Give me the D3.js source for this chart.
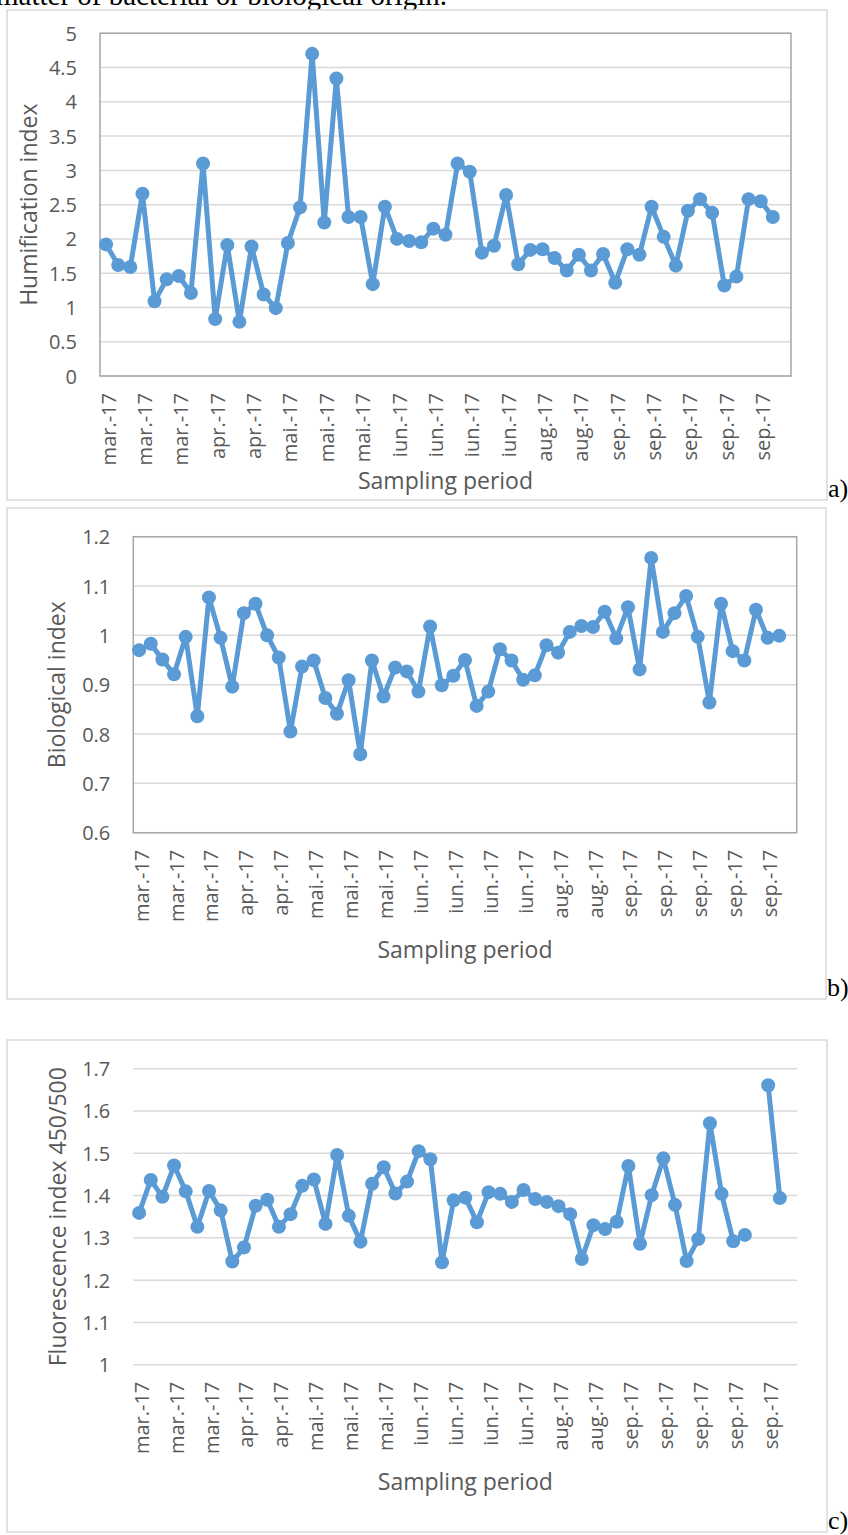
<!DOCTYPE html>
<html>
<head>
<meta charset="utf-8">
<script src="https://cdn.jsdelivr.net/npm/d3@7"></script>
<style>
  html, body { margin: 0; padding: 0; background: #fff; }
  svg { display: block; }
  .chart-tick text { font-family: 'Open Sans', sans-serif; font-size: 20px; fill: #595959; }
  .chart-title { font-family: 'Open Sans', sans-serif; font-size: 23px; fill: #595959; }
  .page-text { font-family: 'Liberation Serif', 'Times New Roman', serif; fill: #000; }
</style>
</head>
<body>
<div id="page"></div>
<script>
;( function() {
  'use strict';

  // ---- data ----

  var nCategories = 57;   // last category is empty in all three charts

  var tickLabels = [
    'mar.-17', 'mar.-17', 'mar.-17', 'apr.-17', 'apr.-17', 'mai.-17', 'mai.-17',
    'mai.-17', 'iun.-17', 'iun.-17', 'iun.-17', 'iun.-17', 'aug.-17', 'aug.-17',
    'sep.-17', 'sep.-17', 'sep.-17', 'sep.-17', 'sep.-17'
  ];

  var humificationIndex = [
    1.92, 1.62, 1.59, 2.66, 1.09, 1.41, 1.46, 1.21, 3.10, 0.83,
    1.91, 0.79, 1.89, 1.19, 0.99, 1.94, 2.46, 4.70, 2.24, 4.34,
    2.32, 2.32, 1.34, 2.47, 2.00, 1.97, 1.95, 2.15, 2.06, 3.10,
    2.98, 1.80, 1.90, 2.64, 1.63, 1.84, 1.85, 1.72, 1.54, 1.77,
    1.54, 1.78, 1.36, 1.85, 1.77, 2.47, 2.03, 1.61, 2.41, 2.58,
    2.38, 1.32, 1.45, 2.58, 2.55, 2.32
  ];

  var biologicalIndex = [
    0.970, 0.983, 0.951, 0.921, 0.997, 0.836, 1.077, 0.995, 0.896, 1.045,
    1.064, 1.000, 0.955, 0.805, 0.937, 0.949, 0.873, 0.841, 0.909, 0.759,
    0.949, 0.876, 0.935, 0.927, 0.886, 1.018, 0.899, 0.918, 0.950, 0.857,
    0.886, 0.972, 0.949, 0.910, 0.919, 0.980, 0.965, 1.007, 1.019, 1.017,
    1.048, 0.994, 1.057, 0.931, 1.157, 1.007, 1.045, 1.080, 0.997, 0.864,
    1.064, 0.968, 0.949, 1.052, 0.995, 0.999
  ];

  var fluorescenceIndex = [
    1.359, 1.437, 1.397, 1.471, 1.410, 1.326, 1.411, 1.365, 1.244, 1.277,
    1.376, 1.390, 1.326, 1.356, 1.423, 1.438, 1.333, 1.496, 1.352, 1.291,
    1.428, 1.467, 1.405, 1.433, 1.505, 1.486, 1.242, 1.389, 1.395, 1.337,
    1.408, 1.404, 1.385, 1.413, 1.392, 1.385, 1.375, 1.356, 1.250, 1.330,
    1.321, 1.338, 1.470, 1.286, 1.401, 1.488, 1.378, 1.245, 1.297, 1.571,
    1.404, 1.292, 1.307, null, 1.661, 1.394
  ];

  var humificationTicks = [0, 5, 0.5];
  var biologicalTicks = [0.6, 1.2, 0.1];
  var fluorescenceTicks = [1, 1.7, 0.1];

  // ---- page ----

  var width = 848;
  var height = 1535;
  var blue = '#5b9bd5';

  var svg = d3.select('#page')
    .append('svg')
      .attr('width', width)
      .attr('height', height);

  // the line of body text above the first chart (cut by the page top, as in the scan)
  svg.append('text')
    .attr('class', 'page-text')
    .attr('x', -4)
    .attr('y', 5)
    .style('font-size', '29px')
    .text('matter of bacterial or biological origin.');

  function tickRange(t) {
    var n = Math.round((t[1] - t[0]) / t[2]);
    return d3.range(n + 1).map(function(i) { return +(t[0] + i * t[2]).toFixed(3); });
  }

  function drawChart(cfg) {

    var frame = cfg.frame;
    var area = cfg.area;

    svg.append('rect')
      .attr('x', frame.x)
      .attr('y', frame.y)
      .attr('width', frame.w)
      .attr('height', frame.h)
      .attr('fill', '#fff')
      .attr('stroke', '#d9d9d9')
      .attr('stroke-width', 1.5);

    var g = svg.append('g');

    var x = d3.scalePoint()
      .domain(d3.range(nCategories))
      .range([area.left, area.right])
      .padding(0.5);

    var ticks = tickRange(cfg.ticks);

    var y = d3.scaleLinear()
      .domain([cfg.ticks[0], cfg.ticks[1]])
      .range([area.bottom, area.top]);

    // horizontal grid
    g.append('g')
      .selectAll('line')
      .data(ticks)
      .enter().append('line')
        .attr('x1', area.left)
        .attr('x2', area.right)
        .attr('y1', function(d) { return y(d); })
        .attr('y2', function(d) { return y(d); })
        .attr('stroke', '#d9d9d9')
        .attr('stroke-width', 1.5);

    if (cfg.border) {
      g.append('rect')
        .attr('x', area.left)
        .attr('y', area.top)
        .attr('width', area.right - area.left)
        .attr('height', area.bottom - area.top)
        .attr('fill', 'none')
        .attr('stroke', '#a6a6a6')
        .attr('stroke-width', 1.5);
    }

    // y axis labels
    var yAxis = d3.axisLeft(y)
      .tickValues(ticks)
      .tickSize(0)
      .tickPadding(0)
      .tickFormat(function(d) { return String(d); });

    g.append('g')
      .attr('class', 'chart-tick')
      .attr('transform', 'translate(' + (area.left - 23) + ',0)')
      .call(yAxis)
      .call(function(a) { a.select('.domain').remove(); })
      .selectAll('text')
        .attr('x', 0)
        .attr('dy', '0.35em')
        .attr('font-family', null)
        .attr('font-size', null);

    // x axis labels, every third category
    var xAxis = d3.axisBottom(x)
      .tickValues(d3.range(0, nCategories, 3))
      .tickSize(0)
      .tickFormat(function(d) { return tickLabels[d / 3]; });

    g.append('g')
      .attr('class', 'chart-tick')
      .attr('transform', 'translate(0,' + area.bottom + ')')
      .call(xAxis)
      .call(function(a) { a.select('.domain').remove(); })
      .selectAll('text')
        .attr('font-family', null)
        .attr('font-size', null)
        .attr('transform', 'rotate(-90)')
        .attr('x', -17)
        .attr('y', 2)
        .attr('dy', '0.35em')
        .style('text-anchor', 'end');

    // axis titles
    g.append('text')
      .attr('class', 'chart-title')
      .attr('transform', 'translate(' + cfg.yTitleX + ',' + ((area.top + area.bottom) / 2) + ') rotate(-90)')
      .attr('dy', '0.35em')
      .attr('text-anchor', 'middle')
      .text(cfg.yTitle);

    g.append('text')
      .attr('class', 'chart-title')
      .attr('x', (area.left + area.right) / 2)
      .attr('y', cfg.xTitleY)
      .attr('text-anchor', 'middle')
      .text('Sampling period');

    // series
    var lineGen = d3.line()
      .defined(function(d) { return d !== null; })
      .x(function(d, i) { return x(i); })
      .y(function(d) { return y(d); });

    g.append('path')
      .datum(cfg.values)
      .attr('fill', 'none')
      .attr('stroke', blue)
      .attr('stroke-width', 5)
      .attr('stroke-linejoin', 'round')
      .attr('d', lineGen);

    g.append('g')
      .selectAll('circle')
      .data(cfg.values.map(function(v, i) { return [i, v]; })
        .filter(function(d) { return d[1] !== null; }))
      .enter().append('circle')
        .attr('cx', function(d) { return x(d[0]); })
        .attr('cy', function(d) { return y(d[1]); })
        .attr('r', 7)
        .attr('fill', blue);

    // panel letter
    svg.append('text')
      .attr('class', 'page-text')
      .attr('x', frame.x + frame.w + 1)
      .attr('y', frame.y + frame.h - 3)
      .style('font-size', '26px')
      .text(cfg.tag);

  } // function drawChart(...)

  drawChart({
    values: humificationIndex,
    ticks: humificationTicks,
    yTitle: 'Humification index',
    tag: 'a)',
    frame: { x: 7, y: 10, w: 820, h: 490 },
    area: { left: 100, top: 33.3, right: 791, bottom: 376 },
    border: true,
    yTitleX: 29,
    xTitleY: 489
  });

  drawChart({
    values: biologicalIndex,
    ticks: biologicalTicks,
    yTitle: 'Biological index',
    tag: 'b)',
    frame: { x: 7, y: 508, w: 819, h: 491 },
    area: { left: 133.3, top: 536.7, right: 796.7, bottom: 832.7 },
    border: true,
    yTitleX: 57,
    xTitleY: 958
  });

  drawChart({
    values: fluorescenceIndex,
    ticks: fluorescenceTicks,
    yTitle: 'Fluorescence index 450/500',
    tag: 'c)',
    frame: { x: 7, y: 1040, w: 820, h: 492 },
    area: { left: 133.3, top: 1068.7, right: 797.3, bottom: 1364.7 },
    border: false,
    yTitleX: 58,
    xTitleY: 1490
  });

})();
</script>
</body>
</html>
